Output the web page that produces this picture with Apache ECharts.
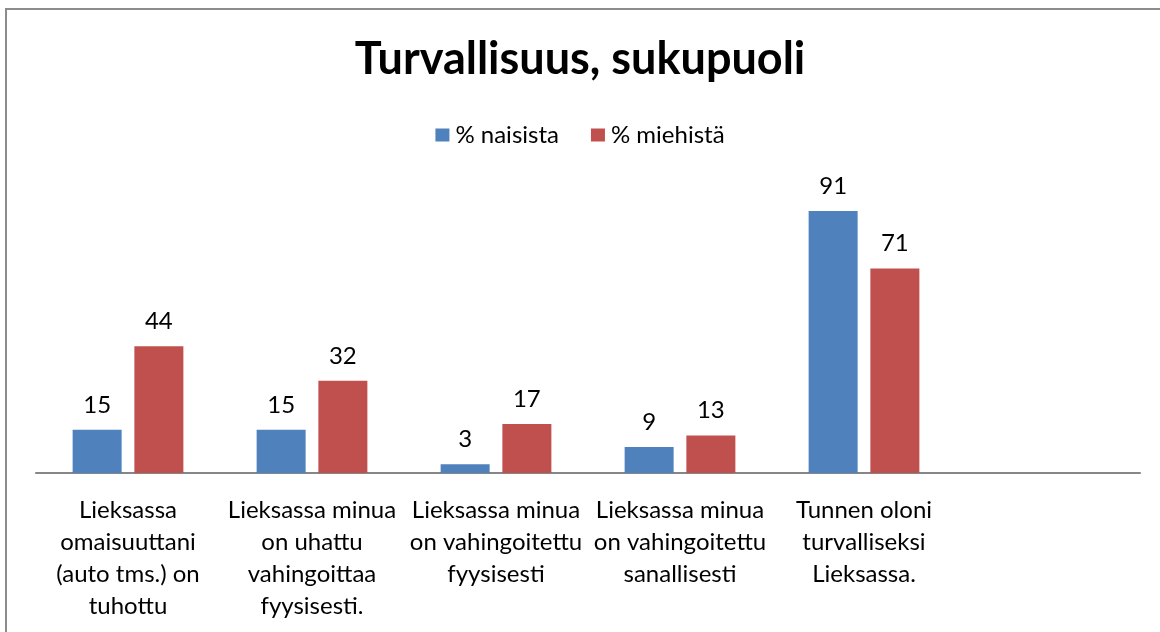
<!DOCTYPE html>
<html>
<head>
<meta charset="utf-8">
<script src="https://cdn.jsdelivr.net/npm/echarts@6/dist/echarts.min.js"></script>
<style>
  html, body { margin: 0; padding: 0; background: #fff; }
  #chart { width: 1160px; height: 632px; }
</style>
</head>
<body>
<div id="chart"></div>
<script>
const categories = [
  'Lieksassa\nomaisuuttani\n(auto tms.) on\ntuhottu',
  'Lieksassa minua\non uhattu\nvahingoittaa\nfyysisesti.',
  'Lieksassa minua\non vahingoitettu\nfyysisesti',
  'Lieksassa minua\non vahingoitettu\nsanallisesti',
  'Tunnen oloni\nturvalliseksi\nLieksassa.',
  ''
]
const naiset = [15, 15, 3, 9, 91, null]
const miehet = [44, 32, 17, 13, 71, null]

const font = 'Lato, "Noto Sans", sans-serif'
const chart = echarts.init(document.getElementById('chart'))

chart.setOption({
  animation: false,
  textStyle: { fontFamily: font },
  title: {
    text: 'Turvallisuus, sukupuoli',
    left: 'center',
    top: 32,
    textStyle: { fontSize: 45, fontWeight: 'bold', color: '#000', fontFamily: font }
  },
  legend: {
    top: 118,
    left: 'center',
    itemWidth: 14,
    itemHeight: 13,
    itemGap: 32,
    icon: 'rect',
    textStyle: { fontSize: 24, color: '#000', padding: [0, 0, 0, 1] },
    data: ['% naisista', '% miehistä']
  },
  grid: { left: 36, right: 20, top: 185, bottom: 159 },
  xAxis: {
    type: 'category',
    data: categories,
    axisLine: { lineStyle: { color: '#868686', width: 2 } },
    axisTick: { show: false },
    axisLabel: {
      interval: 0,
      margin: 21,
      fontSize: 24,
      lineHeight: 32,
      color: '#000',
      align: 'center'
    }
  },
  yAxis: {
    type: 'value',
    min: 0,
    max: 100,
    show: false,
    splitLine: { show: false }
  },
  series: [
    {
      name: '% naisista',
      type: 'bar',
      data: naiset,
      barWidth: 49,
      barGap: '26%',
      itemStyle: { color: '#4F81BD' },
      label: { show: true, position: 'top', distance: 13, fontSize: 24, color: '#000' }
    },
    {
      name: '% miehistä',
      type: 'bar',
      data: miehet,
      barWidth: 49,
      itemStyle: { color: '#C0504D' },
      label: { show: true, position: 'top', distance: 13, fontSize: 24, color: '#000' }
    }
  ],
  graphic: [
    {
      type: 'rect',
      shape: { x: 6, y: 9, width: 1170, height: 640 },
      style: { fill: 'none', stroke: '#8c8c8c', lineWidth: 2 }
    }
  ]
})
</script>
</body>
</html>
